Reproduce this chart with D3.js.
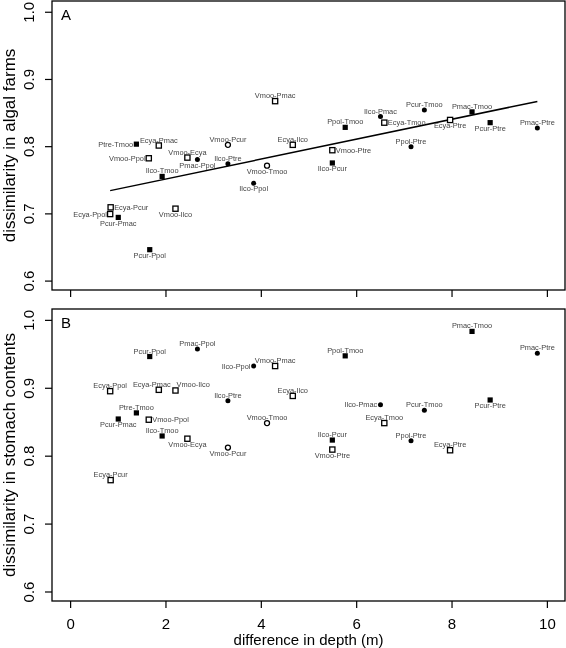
<!DOCTYPE html>
<html>
<head>
<meta charset="utf-8">
<script src="https://cdn.jsdelivr.net/npm/d3@7"></script>
<style>
body{margin:0;background:#fff;}
#chart{will-change:transform;}
svg{font-family:"Liberation Sans",Arial,sans-serif;}
</style>
</head>
<body>
<div id="chart"></div>
<script>
// species pairs, depth difference (m) and the two dissimilarities
var pairs = ["Ptre-Tmoo","Ecya-Pmac","Vmoo-Ppol","Vmoo-Ecya","Pmac-Ppol","Vmoo-Pcur","Ilco-Ptre",
	"Ecya-Ilco","Vmoo-Tmoo","Ilco-Ppol","Ilco-Tmoo","Ecya-Pcur","Ecya-Ppol","Pcur-Pmac","Vmoo-Ilco",
	"Pcur-Ppol","Pcur-Tmoo","Pmac-Tmoo","Ilco-Pmac","Ecya-Tmoo","Ecya-Ptre","Pcur-Ptre","Pmac-Ptre",
	"Ppol-Tmoo","Ppol-Ptre","Vmoo-Ptre","Ilco-Pcur","Vmoo-Pmac"];
var depthDiff = [1.39,1.86,1.65,2.46,2.67,3.31,3.31,4.67,4.13,3.85,1.93,0.85,0.84,1.01,2.21,
	1.67,7.43,8.43,6.51,6.59,7.97,8.81,9.80,5.77,7.15,5.50,5.50,4.30];
var algal = [0.803,0.801,0.782,0.783,0.780,0.802,0.774,0.802,0.771,0.745,0.755,0.709,0.699,0.694,0.707,
	0.646,0.854,0.851,0.844,0.835,0.839,0.835,0.827,0.828,0.799,0.794,0.775,0.867];
var stomach = [0.863,0.897,0.853,0.825,0.957,0.812,0.881,0.888,0.848,0.932,0.829,0.764,0.895,0.854,0.896,
	0.946,0.867,0.983,0.875,0.848,0.808,0.882,0.951,0.947,0.822,0.809,0.823,0.932];
// fs filled square, os open square, fc filled circle, oc open circle
var marker = ["fs","os","os","os","fc","oc","fc","os","oc","fc","fs","os","os","fs","os",
	"fs","fc","fs","fc","os","os","fs","fc","fs","fc","os","fs","os"];
// where each label sits relative to its point (nl = above, pushed left)
var labelPosA = ["w","n","w","n","s","n","n","n","s","s","n","e","w","s","s",
	"s","n","n","n","e","s","s","n","n","n","e","s","n"];
var labelPosB = ["n","nl","e","s","n","s","n","n","n","w","n","n","n","s","ne",
	"n","n","n","w","n","n","s","n","n","n","s","n","n"];
var xTicks = [0,2,4,6,8,10];
var yTicks = [0.6,0.7,0.8,0.9,1.0];

var W = 566, H = 648;
var left = 52, right = 565;

var svg = d3.select("#chart").append("svg").attr("width",W).attr("height",H);

var x = d3.scaleLinear().domain([-0.38,10.38]).range([left,right]);

function drawPanel(values,labelPos,letter,title,top,bottom,fitLine,xLabels){
	var y = d3.scaleLinear().domain([0.586,1.016]).range([bottom,top]);
	var g = svg.append("g");

	g.append("rect")
		.attr("x",left).attr("y",top)
		.attr("width",right-left).attr("height",bottom-top)
		.attr("fill","none").attr("stroke","black").attr("stroke-width",1.3);

	// y axis, labels turned to run along the axis
	var ya = g.append("g").attr("transform","translate("+left+",0)")
		.call(d3.axisLeft(y).tickValues(yTicks).tickSize(7).tickFormat(d3.format(".1f")));
	ya.select(".domain").remove();
	ya.selectAll("line").attr("stroke","black").attr("stroke-width",1.2);
	ya.selectAll(".tick text")
		.attr("x",0).attr("y",0).attr("dy",0)
		.attr("transform","translate(-18,0) rotate(-90)")
		.attr("text-anchor","middle")
		.style("font-size","15px").attr("fill","black");

	// x axis
	var xa = g.append("g").attr("transform","translate(0,"+bottom+")")
		.call(d3.axisBottom(x).tickValues(xTicks).tickSize(7).tickFormat(xLabels ? d3.format("d") : ""));
	xa.select(".domain").remove();
	xa.selectAll("line").attr("stroke","black").attr("stroke-width",1.2);
	xa.selectAll("text").attr("y",17).attr("dy","0.71em").style("font-size","15px").attr("fill","black");

	g.append("text")
		.attr("transform","translate(15,"+((top+bottom)/2)+") rotate(-90)")
		.attr("text-anchor","middle")
		.style("font-size","17px")
		.text(title);

	g.append("text")
		.attr("x",61).attr("y",top+19)
		.style("font-size","15px")
		.text(letter);

	if(fitLine){
		var mx = d3.mean(depthDiff), my = d3.mean(values);
		var sxy = d3.sum(depthDiff,function(d,i){return (d-mx)*(values[i]-my);});
		var sxx = d3.sum(depthDiff,function(d){return (d-mx)*(d-mx);});
		var slope = sxy/sxx, icpt = my - slope*mx;
		var ext = d3.extent(depthDiff);
		g.append("line")
			.attr("x1",x(ext[0])).attr("y1",y(icpt+slope*ext[0]))
			.attr("x2",x(ext[1])).attr("y2",y(icpt+slope*ext[1]))
			.attr("stroke","black").attr("stroke-width",1.5);
	}

	var pts = g.selectAll(".pt").data(pairs).enter().append("g")
		.attr("transform",function(d,i){return "translate("+x(depthDiff[i])+","+y(values[i])+")";});

	pts.each(function(d,i){
		var p = d3.select(this), m = marker[i];
		if(m=="fs"){
			p.append("rect").attr("x",-2.6).attr("y",-2.6).attr("width",5.2).attr("height",5.2).attr("fill","black");
		}else if(m=="os"){
			p.append("rect").attr("x",-2.6).attr("y",-2.6).attr("width",5.2).attr("height",5.2)
				.attr("fill","white").attr("stroke","black").attr("stroke-width",1.3);
		}else if(m=="fc"){
			p.append("circle").attr("r",2.5).attr("fill","black");
		}else{
			p.append("circle").attr("r",2.5).attr("fill","white").attr("stroke","black").attr("stroke-width",1.3);
		}
		var pos = labelPos[i], t = p.append("text").text(d)
			.style("font-size","7.4px").attr("fill","#444")
			.attr("dominant-baseline","central");
		if(pos=="n"){ t.attr("text-anchor","middle").attr("y",-5.5); }
		else if(pos=="nl"){ t.attr("text-anchor","middle").attr("x",-7).attr("y",-5.5); }
		else if(pos=="s"){ t.attr("text-anchor","middle").attr("y",5.8); }
		else if(pos=="e"){ t.attr("text-anchor","start").attr("x",3.5); }
		else if(pos=="w"){ t.attr("text-anchor","end").attr("x",-3.2); }
		else if(pos=="ne"){ t.attr("text-anchor","start").attr("x",1).attr("y",-5.5); }
	});
}

drawPanel(algal,labelPosA,"A","dissimilarity in algal farms",1,290,true,false);
drawPanel(stomach,labelPosB,"B","dissimilarity in stomach contents",309,601,false,true);

svg.append("text")
	.attr("x",(left+right)/2).attr("y",645)
	.attr("text-anchor","middle")
	.style("font-size","15px")
	.text("difference in depth (m)");
</script>
</body>
</html>
